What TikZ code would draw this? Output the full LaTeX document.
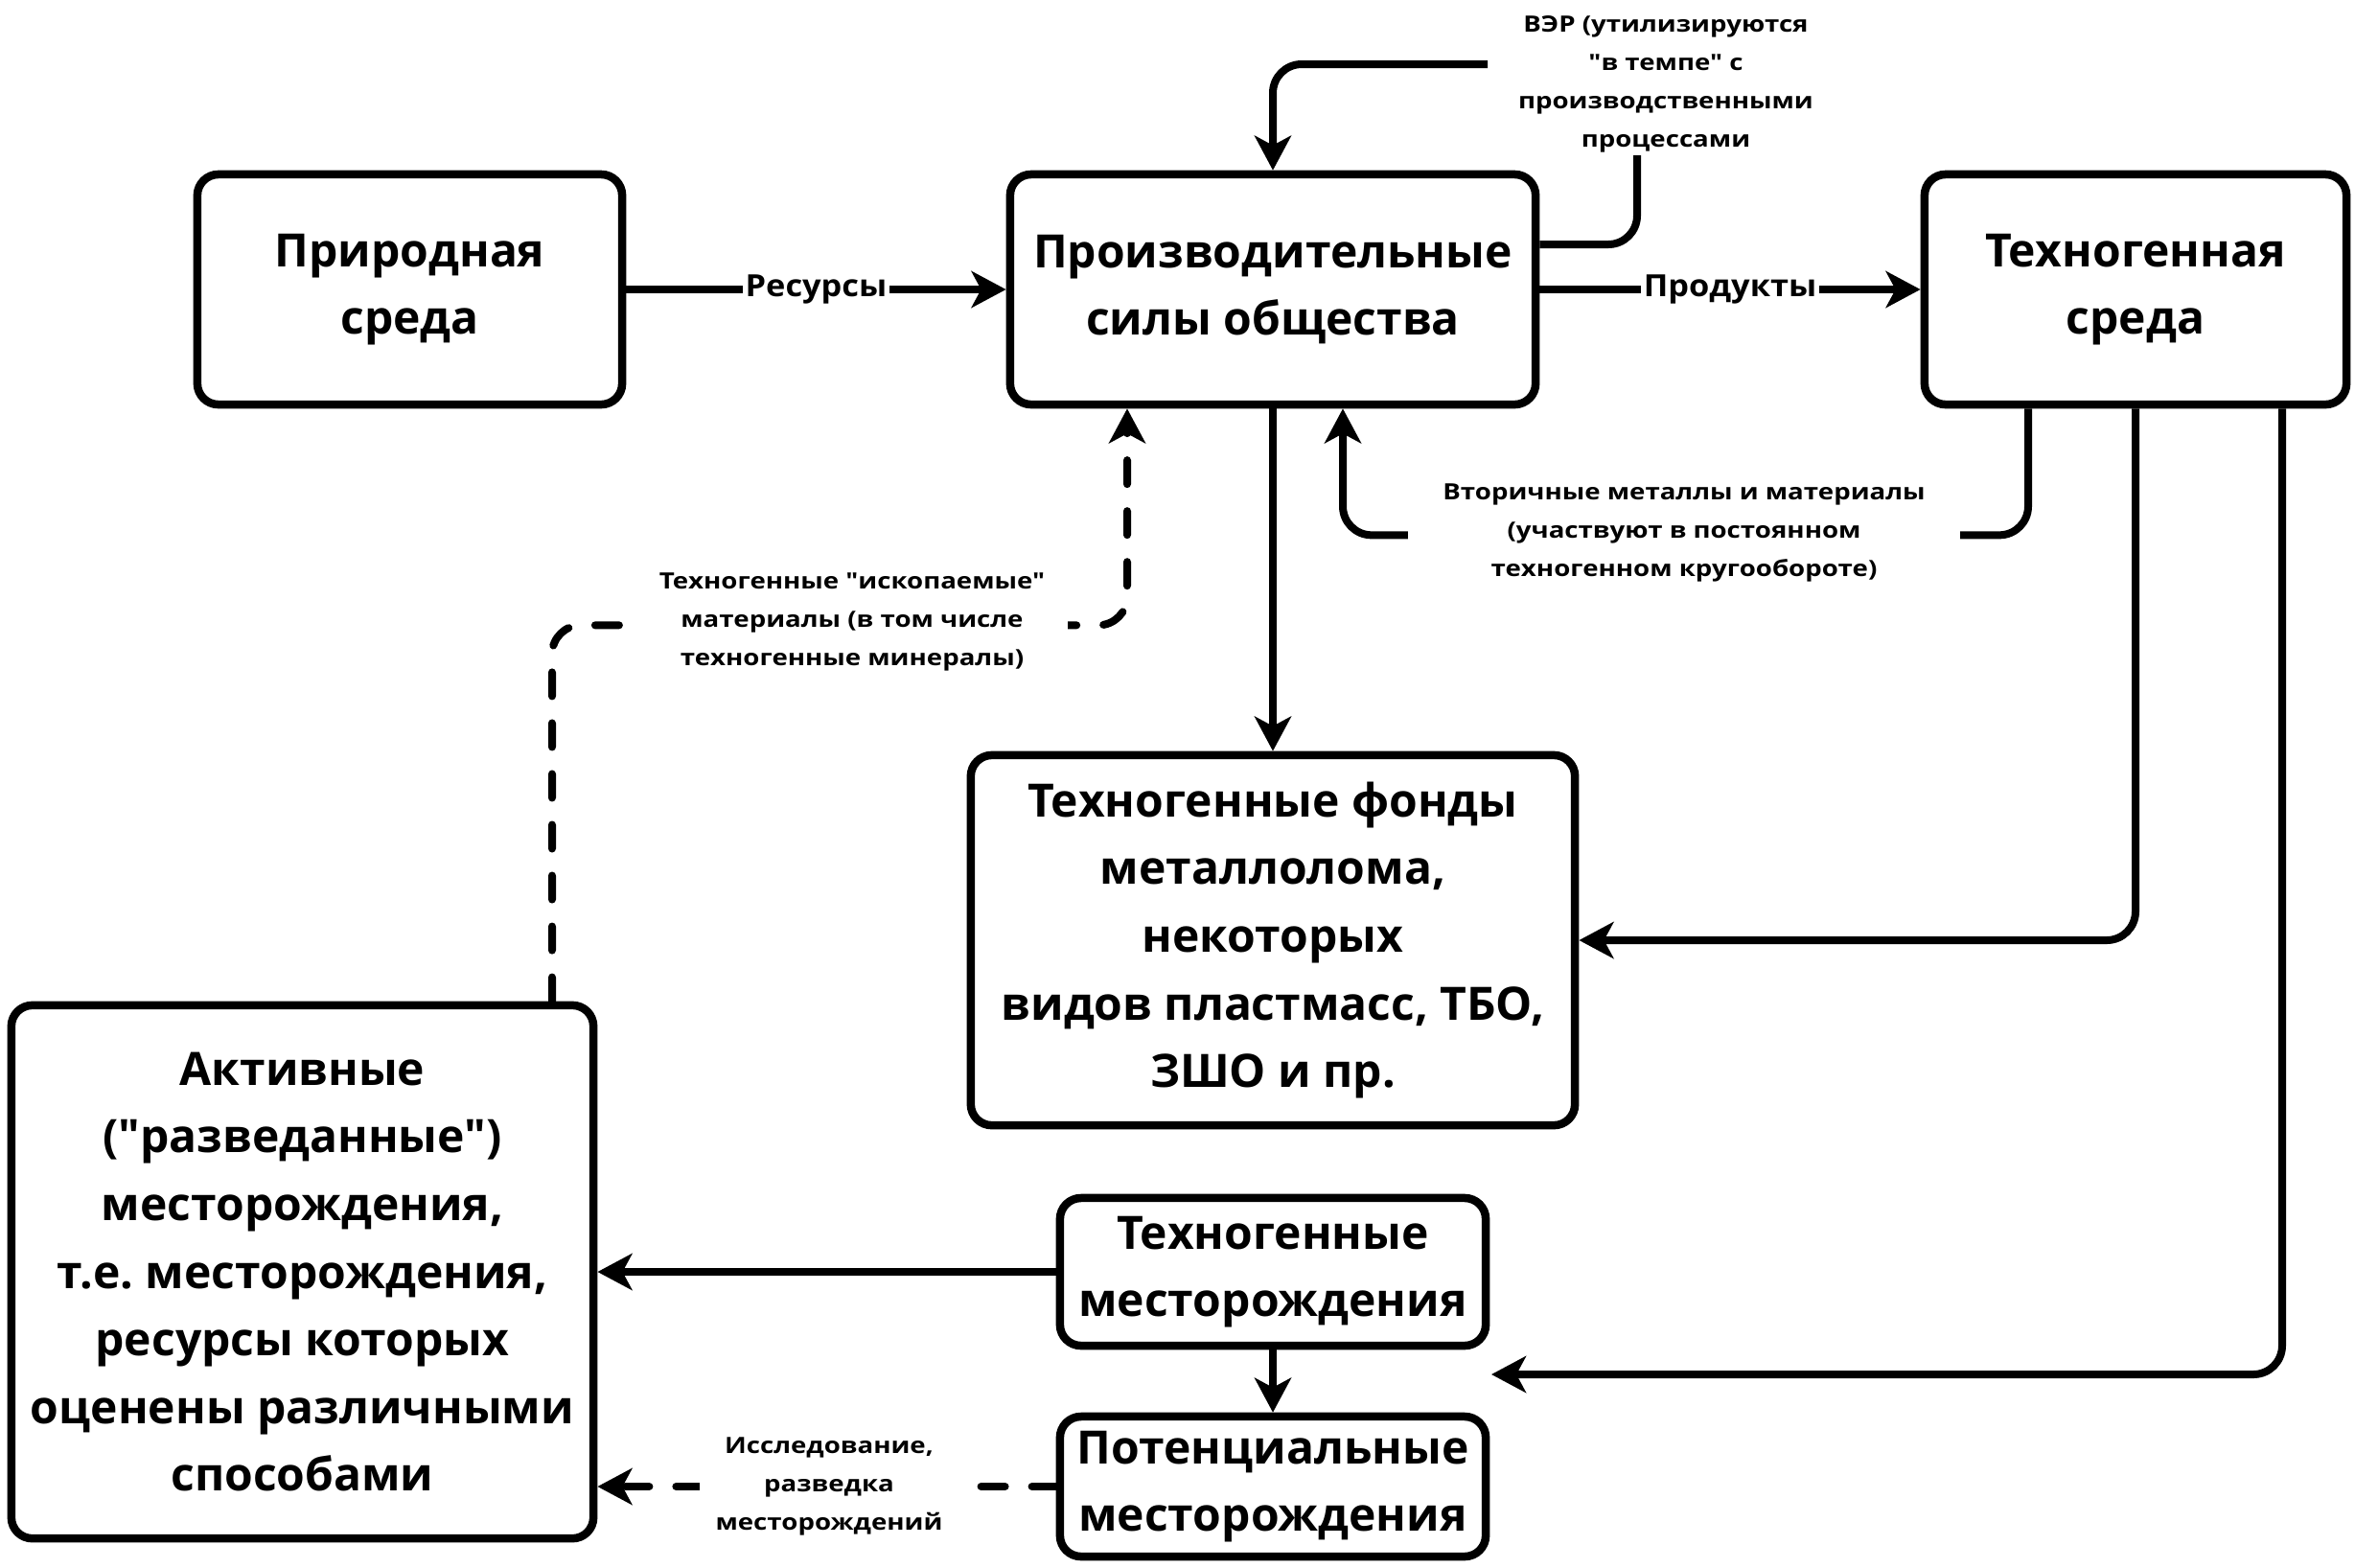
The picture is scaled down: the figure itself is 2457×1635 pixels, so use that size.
\documentclass[tikz,border=0pt]{standalone}
\usepackage{fontspec}
\setmainfont{Open Sans}
\newfontfamily\boxfont{Open Sans}
\newfontfamily\lblfont{Open Sans}[FakeStretch=1.18]
\newfontfamily\midfont{Open Sans}[FakeStretch=1.08]
\usetikzlibrary{arrows.meta,calc}
\frenchspacing
\begin{document}
\begin{tikzpicture}[x=0.01cm,y=-0.01cm,
  box/.style={draw, line width=0.085cm, rounded corners=0.22cm, align=center, inner sep=0pt,
    font=\boxfont\fontsize{13.65pt}{20.06pt}\selectfont\bfseries},
  conn/.style={line width=0.08cm},
  tipstyle/.style={-{Stealth[length=0.36cm,width=0.38cm,inset=0.1cm]}},
  arr/.style={conn, tipstyle},
  darr/.style={conn, tipstyle, dash pattern=on 0.25cm off 0.28cm, line cap=round},
  rc/.style={rounded corners=0.3cm},
  lbl/.style={align=center, inner ysep=0pt, font=\lblfont\fontsize{6.66pt}{11.4pt}\selectfont\bfseries},
  midlbl/.style={fill=white, inner sep=0.03cm, font=\midfont\fontsize{9.05pt}{11pt}\selectfont\bfseries}
]
\useasboundingbox (0,0) rectangle (2457,1635);

% boxes
\node[box, minimum width=4.43cm, minimum height=2.40cm] (b1) at (427.5,302) {Природная\\среда};
\node[box, minimum width=5.48cm, minimum height=2.40cm] (b2) at (1328,302) {Производительные\\силы общества};
\node[box, minimum width=4.40cm, minimum height=2.40cm] (b3) at (2228,302) {Техногенная\\среда};
\node[box, minimum width=6.30cm, minimum height=3.86cm] (b4) at (1328,981) {Техногенные фонды\\металлолома,\\некоторых\\видов пластмасс, ТБО,\\ЗШО и пр.};
\node[box, minimum width=6.07cm, minimum height=5.56cm] (b5) at (315.5,1327) {Активные\\("разведанные")\\месторождения,\\т.е. месторождения,\\ресурсы которых\\оценены различными\\способами};
\node[box, minimum width=4.44cm, minimum height=1.54cm] (b6) at (1328,1327) {Техногенные\\месторождения};
\node[box, minimum width=4.44cm, minimum height=1.46cm] (b7) at (1328,1551) {Потенциальные\\месторождения};

% coordinates for free ends
\coordinate (vA) at (1552,67);
\coordinate (vB) at (1708,162);
\coordinate (gp) at (1556,1434);

% main flow
\draw[arr] (b1) -- node[midlbl] (lres) {Ресурсы} (b2);
\draw[arr] (b2) -- node[midlbl] (lprod) {Продукты} (b3);

% ВЭР loop
\draw[arr, rc] (vA) -| (b2.north);
\draw[conn, rc] ($(b2.east)+(0,-47)$) -| (vB);
\node[lbl] (lver) at (1738,88) {ВЭР (утилизируются\\"в темпе" с\\производственными\\процессами};

% down to funds
\draw[arr] (b2) -- (b4);

% secondary metals
\draw[arr, rc] ($(b3.south)+(-112,0)$) |- ($(b2.south)+(73,132)$) -- ($(b2.south)+(73,0)$);
\node[lbl, fill=white, inner xsep=0.36cm] (lsec) at (1757,556) {Вторичные металлы и материалы\\(участвуют в постоянном\\техногенном кругообороте)};

% techno env to funds and to gap
\draw[arr, rc] (b3.south) |- (b4.east);
\draw[arr, rc] ($(b3.south)+(153,0)$) |- (gp);

% deposits
\draw[arr] (b6) -- (b7);
\draw[arr] (b6) -- (b5);
\draw[darr] (b7.west) -- (b7.west -| b5.east);
\node[lbl, fill=white, inner xsep=0.17cm] (lexp) at (865,1551) {Исследование,\\разведка\\месторождений};

% techno fossils
\draw[darr, rc] ($(b5.north)+(260.5,0)$) |- ($(b2.south)+(-152,226)$) -- ($(b2.south)+(-152,0)$);
\node[lbl, fill=white, inner xsep=0.24cm] (lfos) at (889,649) {Техногенные "ископаемые"\\материалы (в том числе\\техногенные минералы)};
\end{tikzpicture}
\end{document}
